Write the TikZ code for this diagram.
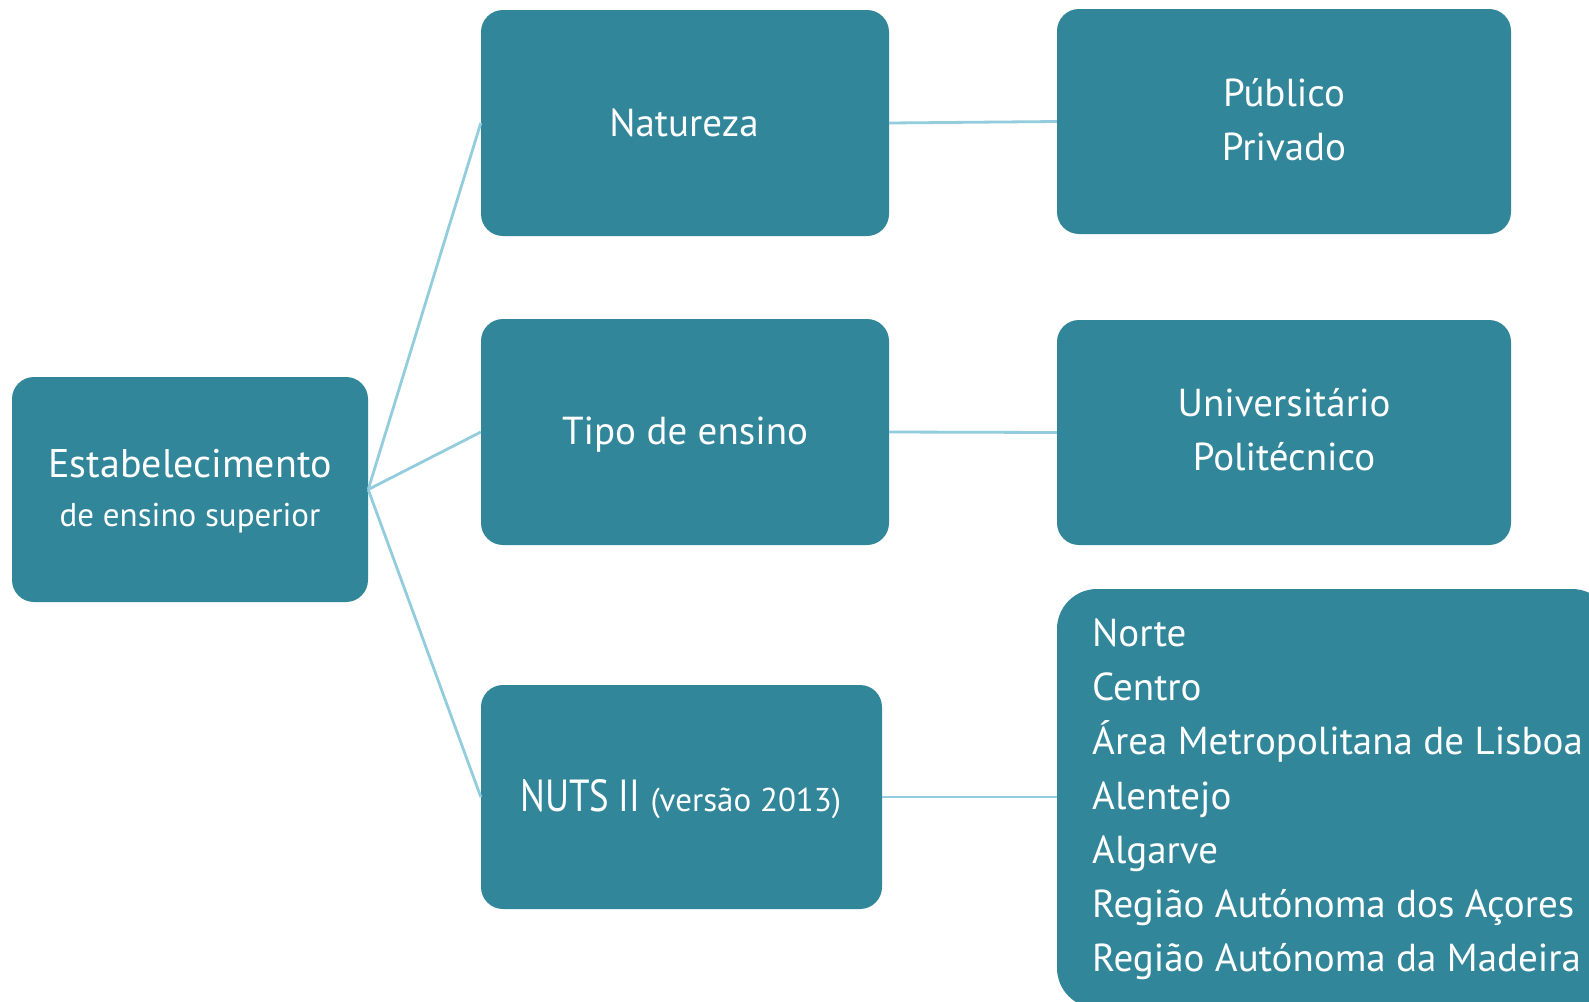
\documentclass[tikz,border=0pt]{standalone}
\usepackage{fontspec}
\setmainfont{PT Sans}
\newfontfamily\narrowfont[FakeStretch=0.82]{PT Sans}
\definecolor{boxteal}{HTML}{32869A}
\definecolor{linkblue}{HTML}{93CDDD}
\begin{document}
\begin{tikzpicture}[x=1pt,y=-1pt,
  box/.style={fill=boxteal, rounded corners=22pt, text=white, align=center, inner sep=0pt},
  midbox/.style={box, minimum width=408pt, minimum height=226pt},
  rightbox/.style={box, minimum width=454pt, minimum height=225pt},
  link/.style={draw=linkblue, line width=2.8pt},
  lbl/.style={text=white, inner sep=0pt, font=\fontsize{39}{54}\selectfont},
]
\useasboundingbox (0,0) rectangle (1589,1001);
\fill[white] (0,0) rectangle (1589,1001);
\clip (0,0) rectangle (1589,1001);

% boxes
\node[box, minimum width=356pt, minimum height=225pt] (root) at (190,489.5) {};
\node[midbox] (nat) at (685,123) {};
\node[midbox] (tipo) at (685,432) {};
\node[box, minimum width=401pt, minimum height=224pt] (nuts) at (681.5,797) {};
\node[rightbox] (pub) at (1284,121.5) {};
\node[rightbox] (univ) at (1284,432.5) {};
\node[box, rounded corners=40pt, minimum width=555pt, minimum height=419pt] (reg) at (1334.5,798.5) {};

% connectors
\draw[link] (root.east) -- (nat.west);
\draw[link] (root.east) -- (tipo.west);
\draw[link] (root.east) -- (nuts.west);
\draw[link] (nat.east) -- (pub.west);
\draw[link] (tipo.east) -- (univ.west);
\draw[link] (nuts.east) -- (nuts.east -| reg.west);

% texts
\node[lbl, font=\fontsize{40}{50}\selectfont, anchor=base] (t1) at (190,477) {Estabelecimento};
\node[lbl, font=\fontsize{33}{50}\selectfont, anchor=base] (t2) at (190,526) {de ensino superior};
\node[lbl, anchor=base] (t3) at (684,136) {Natureza};
\node[lbl, anchor=base] (t4) at (685,444) {Tipo de ensino};
\node[lbl, anchor=base] (t5) at (1284,106.5) {Público};
\node[lbl, anchor=base] (t6) at (1284,160) {Privado};
\node[lbl, anchor=base] (t7) at (1284,416.5) {Universitário};
\node[lbl, anchor=base] (t8) at (1284,470) {Politécnico};
\node[lbl, anchor=base west] (t9) at (520,811) {{\narrowfont\fontsize{45}{50}\selectfont NUTS II}\hspace{10pt}{\fontsize{33}{50}\selectfont (versão 2013)}};
\foreach \txt [count=\i from 0] in {Norte,Centro,Área Metropolitana de Lisboa,Alentejo,Algarve,Região Autónoma dos Açores,Região Autónoma da Madeira}
  \node[lbl, anchor=base west] (r\i) at (1092,646.5+54.2*\i) {\txt};
\end{tikzpicture}
\end{document}
